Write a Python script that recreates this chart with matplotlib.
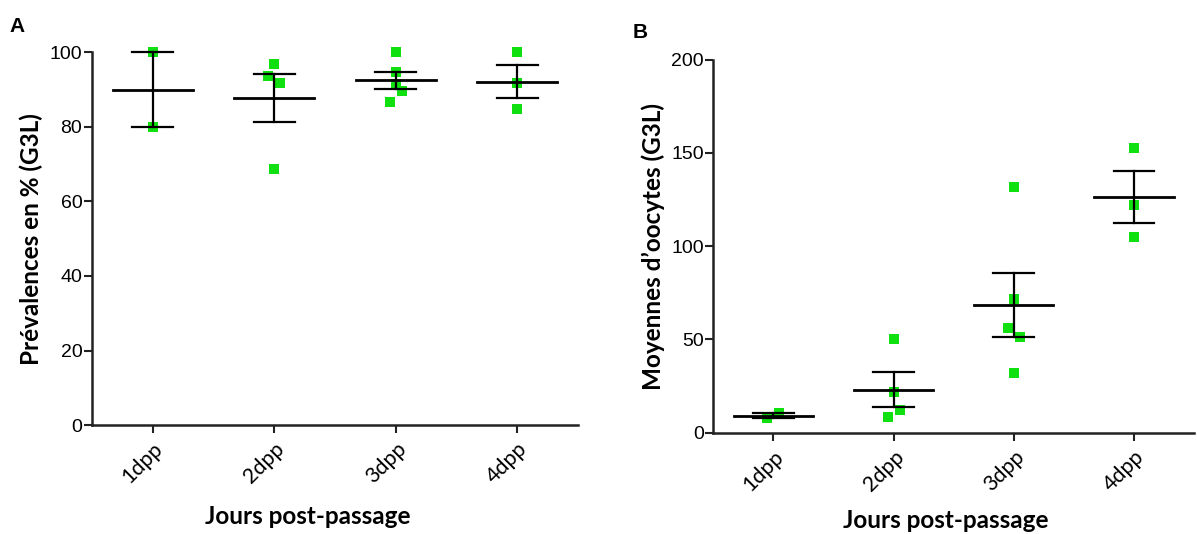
import numpy as np
import matplotlib.pyplot as plt

# data
jours = ["1dpp", "2dpp", "3dpp", "4dpp"]

prev_1dpp = [100, 80]
prev_2dpp = [96.8, 93.7, 91.8, 68.8]
prev_3dpp = [100, 94.7, 91.6, 89.6, 86.8]
prev_4dpp = [100, 91.8, 84.7]

ooc_1dpp = [10.4, 7.6]
ooc_2dpp = [50, 21.7, 12.0, 8.1]
ooc_3dpp = [131.9, 71.8, 56.0, 51.0, 32.0]
ooc_4dpp = [152.8, 121.9, 104.7]

# small horizontal shifts so overlapping points stay visible
jit_a = [[0, 0], [0, -0.05, 0.05, 0], [0, 0, 0, 0.05, -0.05], [0, 0, 0]]
jit_b = [[0.05, -0.05], [0, 0, 0.05, -0.05], [0, 0, -0.05, 0.05, 0], [0, 0, 0]]

vert = "#10e010"
label_font = "Lato"
tick_font = "Liberation Sans"


def scatter_sem(ax, groupes, jit):
    for i, vals in enumerate(groupes):
        x = i + 1
        v = np.array(vals, dtype=float)
        m = v.mean()
        sem = v.std(ddof=1) / np.sqrt(len(v))
        ax.scatter(x + np.array(jit[i]), v, marker="s", s=42, color=vert,
                   linewidths=0, zorder=2, clip_on=False)
        ax.plot([x - 0.33, x + 0.33], [m, m], color="black", lw=2, zorder=3,
                clip_on=False)
        ax.plot([x, x], [m - sem, m + sem], color="black", lw=1.6, zorder=3,
                clip_on=False)
        for y in (m - sem, m + sem):
            ax.plot([x - 0.17, x + 0.17], [y, y], color="black", lw=1.6,
                    zorder=3, clip_on=False)


def style(ax, ymax, ystep):
    for s in ("top", "right"):
        ax.spines[s].set_visible(False)
    for s in ("left", "bottom"):
        ax.spines[s].set_linewidth(1.8)
        ax.spines[s].set_color("#222222")
    ax.set_xlim(0.5, 4.5)
    ax.set_ylim(0, ymax)
    ax.set_yticks(np.arange(0, ymax + 1, ystep))
    ax.set_xticks(range(1, 5))
    ax.set_xticklabels(jours, rotation=45, ha="right", va="top",
                       rotation_mode="anchor", family=label_font, fontsize=15.5)
    ax.tick_params(axis="both", length=6, width=1.5, color="#222222")
    ax.tick_params(axis="y", labelsize=14, pad=1)
    ax.tick_params(axis="x", pad=4)
    for t in ax.get_yticklabels():
        t.set_family(tick_font)


fig = plt.figure(figsize=(11.97, 5.34), dpi=100)

# panel A
axA = fig.add_axes([0.0769, 0.204, 0.406, 0.698])
scatter_sem(axA, [prev_1dpp, prev_2dpp, prev_3dpp, prev_4dpp], jit_a)
style(axA, 100, 20)
axA.set_ylabel("Prévalences en % (G3L)", family=label_font, fontweight="bold",
               fontsize=17.5)
axA.yaxis.set_label_coords(-0.10, 0.5)
fig.text(0.257, 0.032, "Jours post-passage", family=label_font,
         fontweight="bold", fontsize=17.5, ha="center", va="center")
fig.text(0.014, 0.95, "A", family=tick_font, fontweight="bold", fontsize=15,
         ha="center", va="center")

# panel B
axB = fig.add_axes([0.596, 0.19, 0.4015, 0.698])
scatter_sem(axB, [ooc_1dpp, ooc_2dpp, ooc_3dpp, ooc_4dpp], jit_b)
style(axB, 200, 50)
axB.set_ylabel("Moyennes d’oocytes (G3L)", family=label_font, fontweight="bold",
               fontsize=17.5)
axB.yaxis.set_label_coords(-0.10, 0.5)
fig.text(0.79, 0.026, "Jours post-passage", family=label_font,
         fontweight="bold", fontsize=17.5, ha="center", va="center")
fig.text(0.535, 0.94, "B", family=tick_font, fontweight="bold", fontsize=15,
         ha="center", va="center")

fig.savefig("out.png", dpi=100)
